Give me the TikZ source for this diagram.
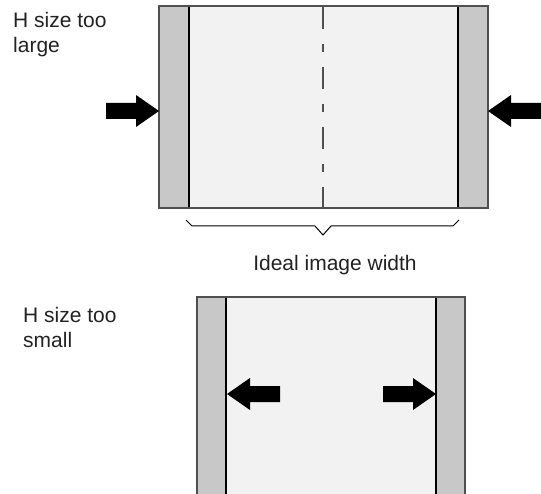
\documentclass[tikz,border=0pt]{standalone}
\usepackage{fontspec}
\setmainfont{Liberation Sans}
\usepackage{tikz}
\usetikzlibrary{calc,positioning}
\definecolor{bandgray}{HTML}{C8C8C8}
\definecolor{panelgray}{HTML}{F2F2F2}
\definecolor{rimgray}{HTML}{505050}
\definecolor{inkx}{HTML}{222222}
\tikzset{
  band/.style={fill=bandgray,draw=rimgray,line width=1.2pt},
  panel/.style={fill=panelgray},
  edge/.style={black,line width=1.2pt},
  mid/.style={rimgray,line width=1.2pt,dash pattern=on 22pt off 15pt on 8pt off 15pt},
  blk/.style={fill=black},
  lbl/.style={font=\fontsize{21}{25}\selectfont,text=inkx,inner sep=0pt},
  brc/.style={black,line width=1pt}
}
\begin{document}
\begin{tikzpicture}[x=1pt,y=-1pt]
\useasboundingbox (0,0) rectangle (541,494);
\clip (0,0) rectangle (541,494);
% H size too large
\filldraw[band] (159,6) rectangle (488,208);
\fill[panel] (189,6.6) rectangle (458,207.4);
\draw[edge] (189,6) -- (189,208);
\draw[edge] (458,6) -- (458,208);
\draw[rimgray,line width=1.2pt] (159,6) -- (488,6) (159,208) -- (488,208);
\draw[mid] (323,7) -- (323,208);
% brace under the ideal width
\draw[brc] (186,220) -- (192,226) -- (315,226) -- (323,235) -- (331,226) -- (453,226) -- (459,220);
% H size too small
\filldraw[band] (197,297) rectangle (465,520);
\fill[panel] (226,297.6) rectangle (436,520);
\draw[edge] (226,297) -- (226,520);
\draw[edge] (436,297) -- (436,520);
\draw[rimgray,line width=1.2pt] (197,297) -- (465,297);
% block arrows
\foreach \tx/\ty/\d in {159/111/1,488/111/-1,227/394/-1,436/394/1}
  \fill[blk,shift={(\tx,\ty)},xscale=\d] (0,0) -- (-23,-16) -- (-23,-8) -- (-53,-8) -- (-53,8) -- (-23,8) -- (-23,16) -- cycle;
\node[lbl,anchor=north west,align=left] (big) at (13,12) {H size too\\large};
\node[lbl,anchor=base] (ideal) at (335,271) {Ideal image width};
\node[lbl,anchor=north west,align=left] (small) at (23,307) {H size too\\small};
\end{tikzpicture}
\end{document}
